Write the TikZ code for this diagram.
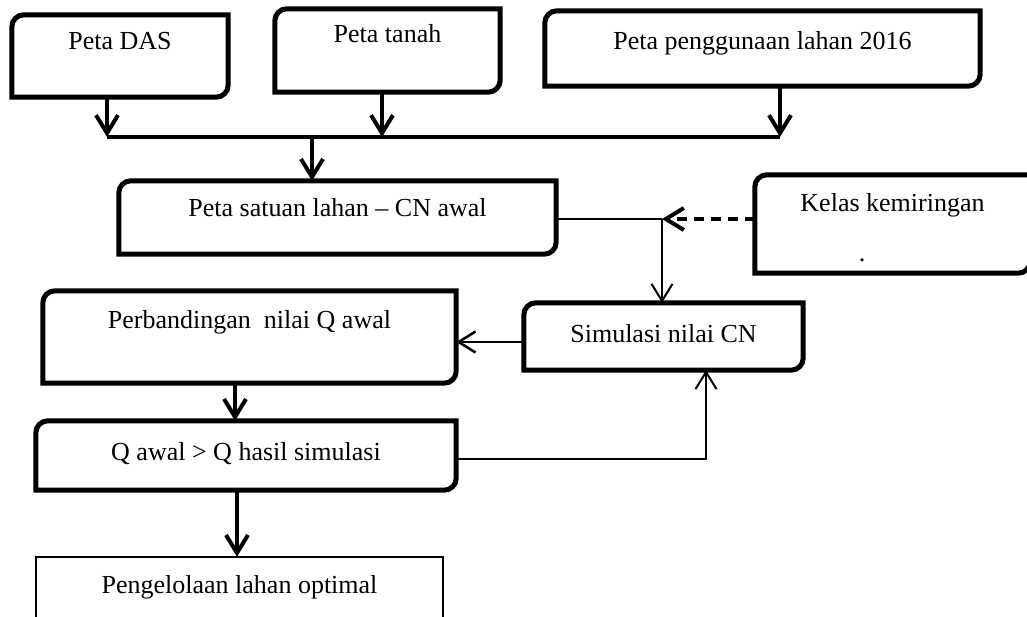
\documentclass[tikz,border=0pt]{standalone}
\usepackage{fontspec}
\setmainfont{Liberation Serif}
\usetikzlibrary{arrows.meta}
\newcommand\diagfont{\fontsize{26}{31}\selectfont}
\newcommand\roundbox[2][thickbox]{%
  \draw[#1] ([xshift=12pt]#2.north west) -- (#2.north east) -- ([yshift=12pt]#2.south east)
    arc[start angle=0,end angle=-90,radius=12pt] -- (#2.south west) -- ([yshift=-12pt]#2.north west)
    arc[start angle=180,end angle=90,radius=12pt] -- cycle;}
\tikzset{
  lbl/.style={rectangle, inner sep=0pt, font=\diagfont, anchor=center},
  thickbox/.style={line width=5pt, black},
  thinbox/.style={line width=2pt, black},
  barbT/.style={-{Straight Barb[length=18pt,width=22pt]}},
  arrT/.style={line width=4pt, barbT},
  arrt/.style={line width=2pt, -{Straight Barb[length=17pt,width=21pt]}},
  arrm/.style={line width=2.5pt, -{Straight Barb[length=17pt,width=21pt]}},
  conn/.style={line width=4pt},
  connt/.style={line width=2pt},
  dasharr/.style={line width=4pt, dash pattern=on 10pt off 7pt, barbT},
}
\begin{document}
\begin{tikzpicture}[x=1pt,y=1pt]
\useasboundingbox (0,0) rectangle (1027,-617);
\clip (0,0) rectangle (1027,-617);
% boxes
\node[lbl, minimum width=216pt, minimum height=82pt, text height=35pt, text depth=47pt] (das) at (120,-56) {Peta DAS};
\node[lbl, minimum width=225pt, minimum height=83pt, text height=34pt, text depth=49pt] (tanah) at (387.5,-50.5) {Peta tanah};
\node[lbl, minimum width=435pt, minimum height=75pt, text height=39pt, text depth=36pt] (guna) at (762.5,-48.5) {Peta penggunaan lahan 2016};
\node[lbl, minimum width=437pt, minimum height=73pt, text height=36pt, text depth=37pt] (satuan) at (337.5,-217.5) {Peta satuan lahan – CN awal};
\node[lbl, minimum width=275pt, minimum height=98pt, text height=37pt, text depth=61pt] (kelas) at (892.5,-224) {Kelas kemiringan};
\node[lbl, anchor=base] (kdot) at (862,-262) {.};
\node[lbl, minimum width=279pt, minimum height=67pt, text height=39pt, text depth=28pt] (sim) at (663.5,-336.5) {Simulasi nilai CN};
\node[lbl, minimum width=413pt, minimum height=92pt, text height=37pt, text depth=55pt] (banding) at (249.5,-337) {Perbandingan\ \ nilai Q awal};
\node[lbl, minimum width=420pt, minimum height=69pt, text height=39pt, text depth=30pt] (qawal) at (246,-455.5) {Q awal > Q hasil simulasi};
\node[lbl, minimum width=407pt, minimum height=100pt, text height=36pt, text depth=64pt] (kelola) at (239.5,-607) {Pengelolaan lahan optimal};
\roundbox{das}
\roundbox{tanah}
\roundbox{guna}
\roundbox{satuan}
\roundbox{kelas}
\roundbox{sim}
\roundbox{banding}
\roundbox{qawal}
\draw[thinbox] (kelola.south west) -- (kelola.north west) -- (kelola.north east) -- (kelola.south east);
% junction points
\coordinate (j1) at (107,-137);
\coordinate (j2) at (382,-137);
\coordinate (j3) at (780,-137);
\coordinate (j4) at (312,-137);
\coordinate (j5) at (662,-219);
\coordinate (j6) at (490,-342);
\coordinate (j7) at (235,-400);
\coordinate (j8) at (706,-459);
\coordinate (j9) at (237,-520);
% connectors
\draw[arrT] (das.south -| j1) -- (j1);
\draw[arrT] (tanah.south -| j2) -- (j2);
\draw[arrT] (guna.south -| j3) -- (j3);
\draw[conn] (j1) -- (j3);
\draw[arrT] (j4) -- (satuan.north -| j4);
\draw[connt] (satuan.east |- j5) -- (j5);
\draw[dasharr] (kelas.west |- j5) -- (j5);
\draw[arrt] (j5) -- (sim.north -| j5);
\draw[arrm] (sim.west |- j6) -- (banding.east |- j6);
\draw[arrT] (banding.south -| j7) -- (qawal.north -| j7);
\draw[arrt] (qawal.east |- j8) -- (j8) -- (sim.south -| j8);
\draw[arrT] (qawal.south -| j9) -- (kelola.north -| j9);
\end{tikzpicture}
\end{document}
